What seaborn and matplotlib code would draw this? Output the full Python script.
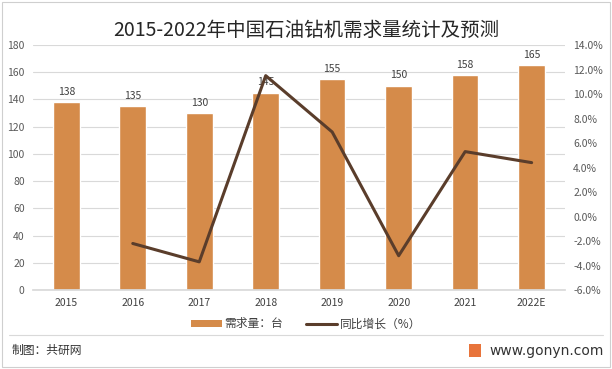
import matplotlib
matplotlib.use("Agg")
import matplotlib.pyplot as plt
import seaborn as sns
import pandas as pd
import numpy as np
from matplotlib.patches import Rectangle
from matplotlib.lines import Line2D
from matplotlib.patches import Patch

years = ["2015", "2016", "2017", "2018", "2019", "2020", "2021", "2022E"]
demand = [138, 135, 130, 145, 155, 150, 158, 165]
growth_years = ["2016", "2017", "2018", "2019", "2020", "2021", "2022E"]
growth = [-2.2, -3.7, 11.5, 6.9, -3.2, 5.3, 4.4]
left_ticks = [0, 20, 40, 60, 80, 100, 120, 140, 160, 180]
right_ticks = [-6, -4, -2, 0, 2, 4, 6, 8, 10, 12, 14]

sns.set_theme(style="white")
plt.rcParams['font.family'] = ['Noto Sans CJK SC', 'DejaVu Sans']

bar_color = "#D58B4A"
line_color = "#5A3D2B"
tick_color = "#595959"

fig = plt.figure(figsize=(6.12, 3.69), dpi=100)
ax = fig.add_axes([0.054, 0.214, 0.869, 0.664])

df = pd.DataFrame({"year": years, "demand": demand})
sns.barplot(data=df, x="year", y="demand", color=bar_color, width=0.4,
            saturation=1, ax=ax, zorder=2)
ax.set_ylim(0, 180)
ax.set_yticks(left_ticks)
ax.set_xlim(-0.5, 7.5)
ax.grid(axis="y", color="#D9D9D9", linewidth=0.8, zorder=0)
ax.set_axisbelow(True)
for s in ["top", "right", "left"]:
    ax.spines[s].set_visible(False)
ax.spines["bottom"].set_color("#D9D9D9")
ax.set_xlabel("")
ax.set_ylabel("")
ax.tick_params(axis="both", length=0, labelsize=7.5, colors=tick_color, pad=6)
ax.tick_params(axis="x", labelcolor="#404040")

for p, v in zip(ax.patches, demand):
    ax.text(p.get_x() + p.get_width() / 2, v + 4, f"{v}", ha="center", va="bottom",
            fontsize=7.5, color="#404040")

ax2 = ax.twinx()
gdf = pd.DataFrame({"x": [years.index(y) for y in growth_years], "g": growth})
sns.lineplot(data=gdf, x="x", y="g", color=line_color, linewidth=2.2, ax=ax2)
ax2.set_ylim(-6, 14)
ax2.set_yticks(right_ticks)
ax2.set_yticklabels([f"{t:.1f}%" for t in right_ticks])
ax2.set_xlim(-0.5, 7.5)
for s in ["top", "right", "left", "bottom"]:
    ax2.spines[s].set_visible(False)
ax2.set_xlabel("")
ax2.set_ylabel("")
ax2.tick_params(axis="y", length=0, labelsize=7.5, colors=tick_color, pad=6)

fig.text(0.5, 0.918, "2015-2022年中国石油钻机需求量统计及预测", ha="center", va="center",
         fontsize=14, color="#262626")

handles = [Patch(facecolor=bar_color, edgecolor="none"),
           Line2D([0], [0], color=line_color, linewidth=2.2)]
fig.legend(handles, ["需求量：台", "同比增长（%）"], loc="center", bbox_to_anchor=(0.5, 0.122),
           ncol=2, frameon=False, fontsize=8.5, handlelength=2.6, handleheight=0.6,
           columnspacing=2.0, handletextpad=0.2, labelcolor="#404040")

# separator line and frame
fig.add_artist(Line2D([0.015, 0.985], [0.092, 0.092], color="#D9D9D9", linewidth=0.8))
fig.add_artist(Rectangle((0.003, 0.005), 0.994, 0.99, fill=False, edgecolor="#CFCFCF", linewidth=0.8))

fig.text(0.018, 0.05, "制图：共研网", ha="left", va="center", fontsize=8.5, color="#333333")
fig.add_artist(Rectangle((0.766, 0.033), 0.02, 0.036, facecolor="#E8743B", edgecolor="none"))
fig.text(0.987, 0.05, "www.gonyn.com", ha="right", va="center", fontsize=10, color="#333333",
         family=["DejaVu Sans"])

fig.savefig("out.png", dpi=100)
